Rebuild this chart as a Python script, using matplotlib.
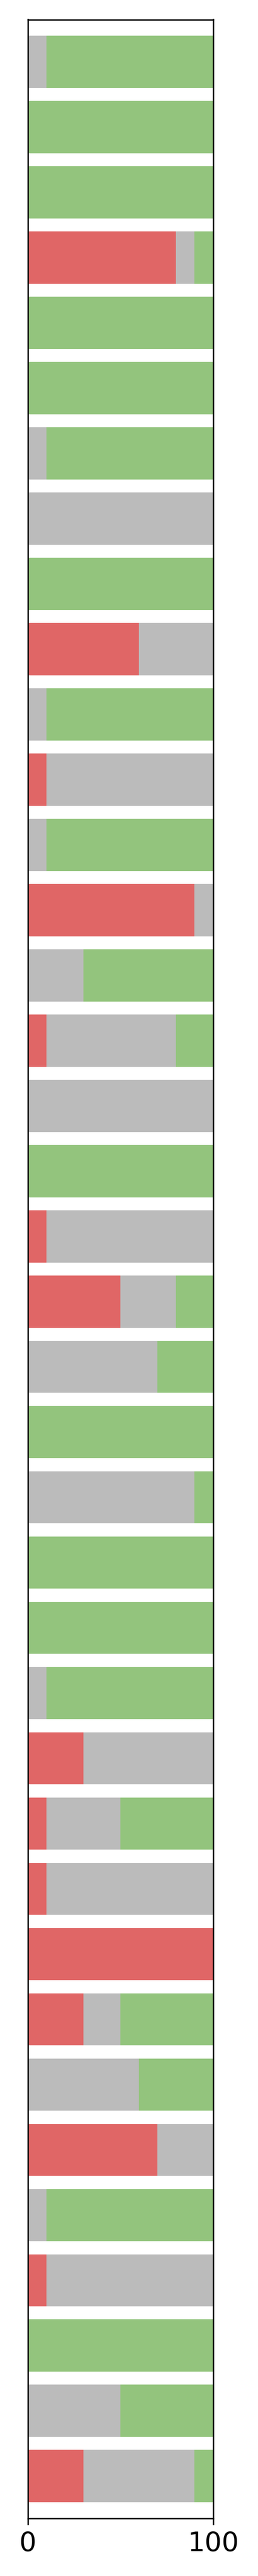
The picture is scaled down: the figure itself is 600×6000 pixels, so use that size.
import matplotlib
matplotlib.use("Agg")
import matplotlib.pyplot as plt
import numpy as np

# Percent shares per row (top to bottom)
red = [0, 0, 0, 80, 0, 0, 0, 0, 0, 60,
       0, 10, 0, 90, 0, 10, 0, 0, 10, 50,
       0, 0, 0, 0, 0, 0, 30, 10, 10, 100,
       30, 0, 70, 0, 10, 0, 0, 30]
gray = [10, 0, 0, 10, 0, 0, 10, 100, 0, 40,
        10, 90, 10, 10, 30, 70, 100, 0, 90, 30,
        70, 0, 90, 0, 0, 10, 70, 40, 90, 0,
        20, 60, 30, 10, 90, 0, 50, 60]
green = [90, 100, 100, 10, 100, 100, 90, 0, 100, 0,
         90, 0, 90, 0, 70, 20, 0, 100, 0, 20,
         30, 100, 10, 100, 100, 90, 0, 50, 0, 0,
         50, 40, 0, 90, 0, 100, 50, 10]
xticks = [0, 100]

colors = ["#e06666", "#bbbbbb", "#93c47d"]

fig = plt.figure(figsize=(2, 20), dpi=300)
ax = fig.add_axes([65 / 600, 1 - 5866 / 6000, (495.5 - 65) / 600, (5866 - 45.5) / 6000])

y = np.arange(len(red))
r = np.array(red, float)
g = np.array(gray, float)
gr = np.array(green, float)
ax.barh(y, r, height=0.8, color=colors[0], linewidth=0)
ax.barh(y, g, left=r, height=0.8, color=colors[1], linewidth=0)
ax.barh(y, gr, left=r + g, height=0.8, color=colors[2], linewidth=0)

ax.set_xlim(0, 100)
ax.set_ylim(len(red) - 0.35, -0.65)
ax.set_xticks(xticks)
ax.set_xticklabels([str(t) for t in xticks], fontsize=15)
ax.set_yticks([])
for s in ax.spines.values():
    s.set_linewidth(0.8)
    s.set_color("black")

fig.savefig("out.png", dpi=300)
